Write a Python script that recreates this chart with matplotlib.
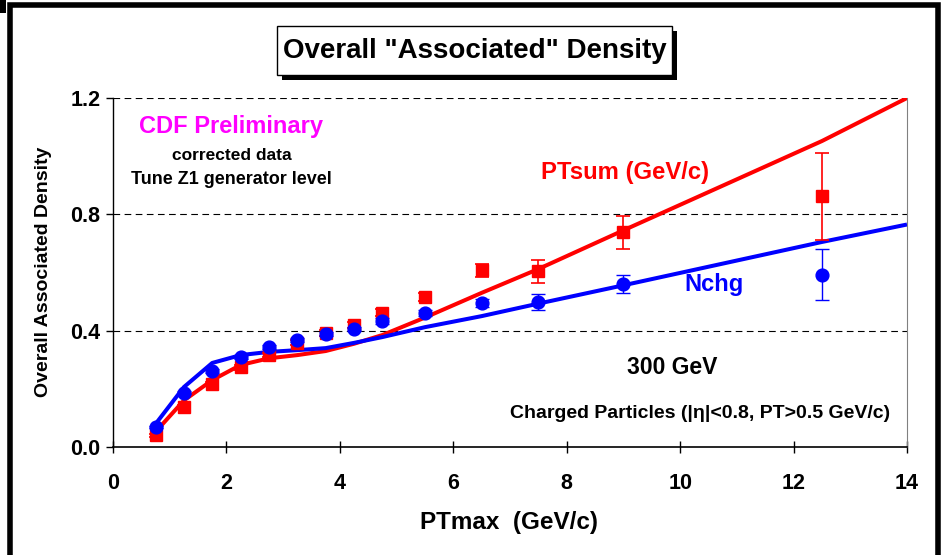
import matplotlib
matplotlib.use("Agg")
import matplotlib.pyplot as plt
from matplotlib.patches import Rectangle

plt.rcParams['font.family'] = ['Liberation Sans', 'DejaVu Sans']

# Data
pt_x = [0.75, 1.25, 1.75, 2.25, 2.75, 3.25, 3.75, 4.25, 4.75, 5.5, 6.5, 7.5, 9.0, 12.5]
ptsum_data = [0.041, 0.138, 0.217, 0.274, 0.316, 0.358, 0.392, 0.420, 0.461, 0.516, 0.607, 0.604, 0.738, 0.862]
ptsum_err = [0.005, 0.006, 0.007, 0.008, 0.008, 0.009, 0.010, 0.010, 0.012, 0.014, 0.022, 0.040, 0.056, 0.150]
nchg_data = [0.069, 0.186, 0.261, 0.310, 0.344, 0.368, 0.389, 0.406, 0.433, 0.462, 0.496, 0.499, 0.560, 0.593]
nchg_err = [0.004, 0.005, 0.006, 0.006, 0.006, 0.007, 0.007, 0.008, 0.009, 0.010, 0.014, 0.027, 0.032, 0.088]

mc_x = [0.75, 1.25, 1.75, 2.25, 2.75, 3.25, 3.75, 4.25, 4.75, 5.5, 6.5, 7.5, 9.0, 12.5, 14.0]
ptsum_mc = [0.052, 0.160, 0.230, 0.282, 0.305, 0.316, 0.330, 0.355, 0.385, 0.445, 0.530, 0.612, 0.745, 1.052, 1.200]
nchg_mc = [0.079, 0.206, 0.289, 0.316, 0.327, 0.333, 0.340, 0.358, 0.378, 0.412, 0.450, 0.493, 0.556, 0.705, 0.765]

x_ticks = [0, 2, 4, 6, 8, 10, 12, 14]
y_ticks = [0.0, 0.4, 0.8, 1.2]

W, H = 942, 555
fig = plt.figure(figsize=(W / 100, H / 100), dpi=100)
ax = fig.add_axes([113 / W, 1 - 447 / H, (907 - 113) / W, (447 - 98) / H])

RED = '#FF0000'
BLUE = '#0000FF'

ax.plot(mc_x, ptsum_mc, color=RED, lw=2.9, zorder=3, solid_capstyle='butt')
ax.plot(mc_x, nchg_mc, color=BLUE, lw=2.9, zorder=3, solid_capstyle='butt')
ax.errorbar(pt_x, ptsum_data, yerr=ptsum_err, fmt='s', color=RED, ms=8, capsize=5,
            elinewidth=1.2, capthick=1.2, zorder=4)
ax.errorbar(pt_x, nchg_data, yerr=nchg_err, fmt='o', color=BLUE, ms=9.2, capsize=5,
            elinewidth=1.0, capthick=1.0, zorder=5)

ax.set_xlim(0, 14)
ax.set_ylim(0, 1.2)
ax.set_xticks(x_ticks)
ax.set_yticks(y_ticks)
ax.set_xticklabels([str(v) for v in x_ticks], fontweight='bold', fontsize=15.5)
ax.set_yticklabels([f"{v:.1f}" for v in y_ticks], fontweight='bold', fontsize=15.5)
ax.tick_params(axis='x', direction='inout', length=9, width=1, pad=14)
ax.tick_params(axis='y', direction='out', length=5, width=1, pad=4)
for v in y_ticks[1:]:
    ax.axhline(v, color='black', lw=0.8, ls=(0, (6, 4)), zorder=1)
ax.spines['top'].set_visible(False)
ax.spines['right'].set_color('#808080')
ax.spines['left'].set_linewidth(1)
ax.spines['bottom'].set_linewidth(1.2)


def ftext(px, py, s, **kw):
    fig.text(px / W, 1 - py / H, s, ha='center', va='center', fontweight='bold', **kw)


ftext(509, 522, 'PTmax  (GeV/c)', color='black', fontsize=17.5)
ftext(44, 272, 'Overall Associated Density', color='black', fontsize=14, rotation=90)

ftext(231, 126, 'CDF Preliminary', color='#FF00FF', fontsize=17)
ftext(232, 156, 'corrected data', color='black', fontsize=12.5)
ftext(231, 179, 'Tune Z1 generator level', color='black', fontsize=13)
ftext(625, 173, 'PTsum (GeV/c)', color=RED, fontsize=17.2)
ftext(714, 285, 'Nchg', color=BLUE, fontsize=17)
ftext(672, 368, '300 GeV', color='black', fontsize=16.5)
ftext(700, 414, 'Charged Particles (|\u03b7|<0.8, PT>0.5 GeV/c)', color='black', fontsize=14)

# title box with shadow
fig.patches.append(Rectangle((282 / W, 1 - 80 / H), 395 / W, 49 / H, transform=fig.transFigure,
                             facecolor='black', edgecolor='none', zorder=1))
fig.patches.append(Rectangle((277 / W, 1 - 75 / H), 395 / W, 49 / H, transform=fig.transFigure,
                             facecolor='white', edgecolor='black', lw=1, zorder=2))
ftext(475, 51, 'Overall "Associated" Density', color='black', fontsize=20, zorder=3)

# outer frame
fig.patches.append(Rectangle((10 / W, -0.02), 928 / W, 1 - 5 / H + 0.02, transform=fig.transFigure,
                             facecolor='none', edgecolor='black', lw=4, zorder=0))
fig.patches.append(Rectangle((0, 1 - 13 / H), 6 / W, 13 / H, transform=fig.transFigure,
                             facecolor='black', edgecolor='none', zorder=0))

fig.savefig('out.png', dpi=100)
